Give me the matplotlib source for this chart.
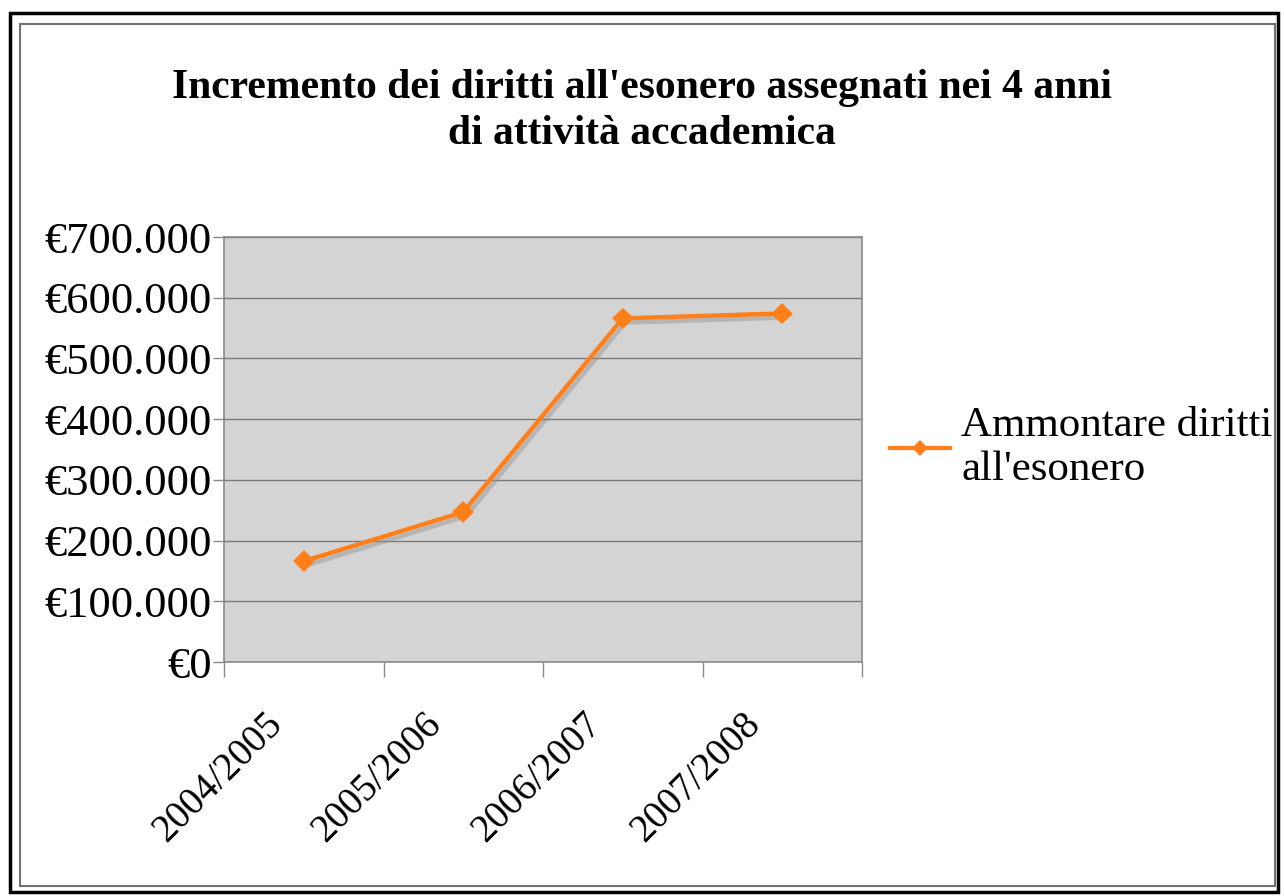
import matplotlib
matplotlib.use("Agg")
import matplotlib.pyplot as plt
import matplotlib.patheffects as pe
from matplotlib.lines import Line2D
from matplotlib.patches import Rectangle
from matplotlib.ticker import FuncFormatter, MultipleLocator
from matplotlib.transforms import ScaledTranslation

# Academic years and amounts of fee exemptions granted
years = ["2004/2005", "2005/2006", "2006/2007", "2007/2008"]
amounts = [166000, 247000, 566000, 574000]
series_label = "Ammontare diritti\nall'esonero"
title = "Incremento dei diritti all'esonero assegnati nei 4 anni\ndi attività accademica"

W, H, DPI = 1284, 896, 100
ORANGE = "#ff7f1a"
plt.rcParams["font.family"] = ["Liberation Serif", "DejaVu Serif"]

fig = plt.figure(figsize=(W / DPI, H / DPI), dpi=DPI)
fig.patch.set_facecolor("white")

# page frame
fig.add_artist(Rectangle((10 / W, 1 - 892 / H), 1268 / W, 879 / H,
                         transform=fig.transFigure, fill=False,
                         edgecolor="black", linewidth=2.5))
fig.add_artist(Rectangle((20 / W, 1 - 886 / H), 1255 / W, 862 / H,
                         transform=fig.transFigure, fill=False,
                         edgecolor="#707070", linewidth=1.5))

ax = fig.add_axes([224 / W, 1 - 662 / H, (862 - 224) / W, (662 - 237) / H])
ax.set_facecolor("#d4d4d4")

x = list(range(len(years)))
line, = ax.plot(x, amounts, color=ORANGE, linewidth=3.2, marker="D",
                markersize=11, markeredgewidth=0, zorder=4)
line.set_path_effects([pe.SimpleLineShadow(offset=(2, -3), shadow_color="#909090",
                                           alpha=0.45), pe.Normal()])

ax.set_xlim(-0.5, len(years) - 0.5)
ax.set_ylim(0, 700000)
ax.yaxis.set_major_locator(MultipleLocator(100000))
ax.yaxis.set_major_formatter(FuncFormatter(
    lambda v, p: "€" + f"{int(v):,}".replace(",", ".")))
ax.grid(axis="y", color="#7a7a7a", linewidth=1.0)
ax.set_axisbelow(True)

ax.set_xticks([i - 0.5 for i in range(len(years) + 1)])
ax.set_xticklabels([])
ax.set_xticks(x, minor=True)
ax.set_xticklabels(years, minor=True, rotation=45, ha="right", va="center",
                   rotation_mode="anchor", fontsize=28)
ax.tick_params(axis="x", which="minor", length=0, pad=0)
ax.tick_params(axis="x", which="major", length=11, color="#8a8a8a", width=1)
ax.tick_params(axis="y", length=8, color="#8a8a8a", width=1, labelsize=32,
               pad=1)

# shift the slanted year labels so they hang below and left of each point
shift = ScaledTranslation(-27 / DPI, -57 / DPI, fig.dpi_scale_trans)
for lbl in ax.get_xticklabels(minor=True):
    lbl.set_transform(lbl.get_transform() + shift)

for s in ax.spines.values():
    s.set_color("#8a8a8a")
    s.set_linewidth(1.2)

fig.text(642 / W, 1 - 111 / H, title, ha="center", va="center",
         fontsize=30, fontweight="bold", linespacing=1.3)

legend_handle = Line2D([], [], color=ORANGE, linewidth=3, marker="D",
                       markersize=8, markeredgewidth=0)
fig.legend(handles=[legend_handle], labels=[series_label], loc="center left",
           bbox_to_anchor=(890 / W, 1 - 448 / H), frameon=False,
           fontsize=31, handlelength=1.4, handletextpad=0.25,
           borderaxespad=0, borderpad=0, labelspacing=0.3)

fig.savefig("out.png", dpi=DPI, facecolor="white")
